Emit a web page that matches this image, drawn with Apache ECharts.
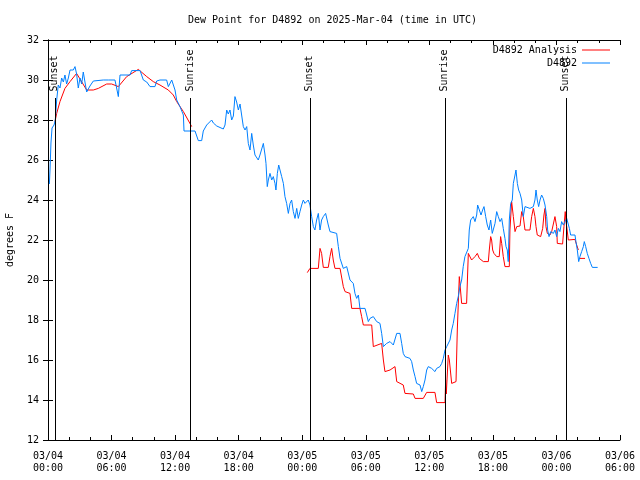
<!DOCTYPE html>
<html>
<head>
<meta charset="utf-8">
<script src="https://cdn.jsdelivr.net/npm/echarts@6/dist/echarts.min.js"></script>
<style>html,body{margin:0;padding:0;background:#fff}#c{width:640px;height:480px}</style>
</head>
<body>
<div id="c"></div>
<script>
// Hours since 2025-03-04 00:00 UTC
const obsHours = [0.13,0.19,0.28,0.38,0.57,0.69,0.82,0.97,1.13,1.29,1.45,1.6,1.76,1.92,2.08,2.24,2.39,2.55,2.7,2.86,3.02,3.18,3.33,3.49,3.65,3.96,4.28,5.22,5.7,6.32,6.48,6.64,6.8,7.74,7.9,8.69,9.0,9.32,9.63,10.1,10.26,10.57,11.2,11.36,11.68,11.83,11.99,12.15,12.46,12.78,12.84,13.88,14.19,14.51,14.66,14.98,15.14,15.45,15.61,15.93,16.55,16.71,16.87,17.02,17.18,17.34,17.5,17.65,17.81,17.97,18.13,
18.28,18.44,18.6,18.76,18.91,19.07,19.23,19.38,19.54,19.7,19.85,20.01,20.33,20.49,20.58,20.7,20.8,20.96,21.12,21.27,21.43,21.52,21.65,21.78,21.9,22.06,22.22,22.37,22.53,22.69,22.85,23.0,23.16,23.32,23.48,23.63,23.79,23.95,24.1,24.26,24.57,24.73,
24.89,25.05,25.2,25.36,25.52,25.68,25.83,25.99,26.21,26.46,26.62,26.78,27.25,27.41,27.57,27.72,27.88,28.04,28.2,28.35,28.51,28.82,28.98,29.14,29.3,29.45,29.93,30.09,30.24,30.4,30.71,31.03,31.34,31.5,31.66,31.81,31.97,32.29,32.6,32.76,32.92,33.23,33.39,33.54,33.7,34.17,34.33,34.49,34.65,34.8,35.12,35.28,35.43,35.59,35.75,35.9,36.22,36.38,36.53,36.69,37.0,37.17,37.32,37.48,37.64,
37.79,37.95,38.11,38.26,38.42,38.58,38.73,38.89,39.05,39.2,39.36,39.52,39.68,39.77,39.9,40.15,40.31,40.47,40.56,40.72,40.88,41.03,41.16,41.32,41.47,41.63,41.79,41.94,42.1,42.2,42.36,42.51,42.67,42.83,42.98,43.14,43.24,43.36,43.45,43.55,43.68,43.83,43.93,44.09,44.18,44.31,44.43,44.56,44.72,44.87,45.03,45.5,45.66,45.82,45.97,46.07,46.19,46.32,46.45,46.6,46.76,46.92,47.08,47.17,47.3,47.46,47.61,47.71,47.86,48.02,48.18,48.33,48.49,48.65,48.81,48.97,49.12,49.22,49.34,49.75,49.84,49.97,50.1,50.22,50.38,50.54,50.63,50.76,50.91,51.07,51.23,51.39,51.89];
const obsDewPoint = [24.8,25.5,26.85,27.6,27.75,28.0,29.0,29.75,29.6,30.1,29.9,30.25,29.8,30.1,30.5,30.4,30.5,30.67,30.3,29.6,30.1,29.8,30.4,29.9,29.4,29.7,29.95,30.0,30.0,30.0,29.6,29.17,30.25,30.25,30.47,30.47,30.0,29.9,29.67,29.67,29.95,30.0,30.0,29.67,30.0,30.0,29.5,29.0,28.67,28.25,27.45,27.45,26.97,26.97,27.45,27.75,27.85,28.0,27.85,27.7,27.55,27.75,28.5,28.3,28.5,28.0,28.2,29.17,28.9,28.5,28.8,
28.25,27.67,27.5,27.67,26.83,26.5,27.33,26.75,26.25,26.17,26.0,26.25,26.83,26.25,25.83,24.67,25.0,25.33,25.0,25.17,24.83,24.5,25.33,25.75,25.75,25.17,24.83,24.17,23.83,23.33,23.83,24.0,23.42,23.08,23.58,23.08,23.42,23.75,24.0,23.83,24.0,23.75,
23.17,22.67,22.5,23.0,23.33,22.5,23.0,23.17,23.33,22.75,22.42,22.33,22.33,21.67,21.08,21.0,20.58,20.5,20.67,20.58,20.0,19.83,19.33,19.08,19.25,18.58,18.58,18.25,17.92,18.08,18.17,17.92,17.83,17.33,16.67,16.67,16.83,16.92,16.75,16.67,17.33,17.33,16.83,16.33,16.17,16.08,15.92,15.5,15.17,14.83,14.75,14.42,14.67,15.0,15.5,15.67,15.58,15.5,15.42,15.58,15.67,15.83,16.08,16.5,16.67,
16.67,17.0,17.5,17.83,18.33,18.83,19.17,19.67,20.0,20.67,21.17,21.17,21.58,22.5,23.0,23.17,22.92,23.25,23.75,23.5,23.25,23.5,23.67,23.17,22.75,22.5,23.0,22.33,22.25,22.83,23.42,23.17,22.92,23.08,22.58,22.08,21.67,21.5,20.92,23.0,23.83,24.0,24.83,25.25,25.5,24.83,24.5,24.33,24.0,23.17,23.67,23.58,23.5,23.67,24.0,24.5,24.0,23.67,24.0,24.25,24.08,23.75,23.17,22.5,22.17,22.42,22.5,22.33,22.5,22.17,22.58,22.42,22.92,22.75,22.92,23.08,23.17,22.58,22.25,22.25,21.92,21.5,20.92,21.17,21.42,21.67,21.92,21.67,21.33,21.08,20.83,20.63,20.63];

const anaHours = [0.66,0.82,1.13,1.6,2.08,2.7,3.65,4.28,4.75,5.54,6.01,6.64,7.43,8.53,9.32,9.94,10.57,11.36,11.83,12.15,12.78,13.57,
19.0,
24.48,24.73,25.52,25.68,25.83,25.99,26.46,26.62,26.78,26.93,27.09,27.57,27.72,27.88,28.04,28.51,28.67,29.45,29.61,29.77,30.56,30.71,30.87,31.5,31.66,31.81,31.97,32.29,32.76,32.92,33.54,33.7,34.49,34.65,35.43,35.75,36.53,36.69,37.48,37.54,37.6,37.79,37.89,38.11,38.52,38.64,38.83,38.89,39.05,39.52,39.68,39.84,39.99,40.31,40.53,40.72,41.1,41.57,41.66,41.79,41.88,41.98,42.1,42.36,42.6,42.73,42.83,42.98,43.14,43.55,43.61,43.77,43.93,44.09,44.25,44.56,44.72,44.87,45.03,45.5,45.66,45.82,45.97,46.07,46.19,46.51,46.7,46.82,46.92,47.01,47.14,47.39,47.55,47.71,47.86,48.02,48.08,48.58,48.71,48.83,48.9,48.97,49.12,49.75,49.91,50.07,
50.15,
50.22,50.7];
const anaDewPoint = [27.92,28.33,28.92,29.58,29.92,30.33,29.5,29.5,29.58,29.8,29.8,29.67,30.17,30.53,30.17,29.92,29.75,29.5,29.25,28.92,28.42,27.67,
null,
20.37,20.58,20.58,21.58,21.33,20.63,20.63,21.17,21.58,21.0,20.58,20.58,20.5,19.67,19.42,19.33,18.58,18.58,18.17,17.75,17.75,16.67,16.75,16.83,16.0,15.42,15.37,15.5,15.67,14.92,14.75,14.33,14.3,14.08,14.08,14.38,14.38,13.87,13.87,15.0,14.3,16.25,16.0,14.83,14.92,17.5,20.17,19.83,18.83,18.83,21.33,21.33,21.0,21.17,21.33,21.08,20.92,20.92,21.5,22.17,22.0,21.5,21.33,21.17,21.17,22.17,21.83,21.17,20.67,20.67,22.5,23.92,23.17,22.42,22.67,22.7,23.42,23.17,22.5,22.5,23.17,23.58,23.17,22.67,22.25,22.17,22.58,23.25,23.58,22.67,22.33,22.25,22.42,22.33,23.17,22.67,21.83,21.8,22.67,23.42,22.92,22.67,22.0,22.03,21.75,21.5,
null,
21.08,21.08];

const sunHours = [0.69, 13.47, 24.73, 37.48, 48.9];
const sunNames = ['Sunset', 'Sunrise', 'Sunset', 'Sunrise', 'Sunset'];
const sunLineTop = 29.1;
const sunLabelBase = 29.4;

const yTicks = {min: 12, max: 32, step: 2};
const xTicks = {min: 0, max: 54, step: 6};

const FONT = 'DejaVu Sans Mono';
const pair = (hs, vs) => hs.map((h, i) => [h, vs[i] === null ? '-' : vs[i]]);

function fmtX(v) {
  const d = new Date(Date.UTC(2025, 2, 4) + v * 3600000);
  const p = n => String(n).padStart(2, '0');
  return p(d.getUTCMonth() + 1) + '/' + p(d.getUTCDate()) + '\n' + p(d.getUTCHours()) + ':' + p(d.getUTCMinutes());
}

const axisLine = {show: true, lineStyle: {color: '#000', width: 1}};
const legendCommon = {right: 30, padding: 0, align: 'right', itemWidth: 28, itemHeight: 1, icon: 'rect',
  textStyle: {fontFamily: FONT, fontSize: 10, color: '#000'}};
const chart = echarts.init(document.getElementById('c'), null, {renderer: 'canvas'});
chart.setOption({
  animation: false,
  backgroundColor: '#fff',
  title: {
    text: 'Dew Point for D4892 on 2025-Mar-04 (time in UTC)',
    left: 188, top: 15, padding: 0,
    textStyle: {fontFamily: FONT, fontSize: 10, fontWeight: 'normal', color: '#000'}
  },
  legend: [
    Object.assign({data: ['D4892 Analysis'], top: 45}, legendCommon),
    Object.assign({data: ['D4892'], top: 58}, legendCommon)
  ],
  grid: {left: 48, right: 20, top: 40, bottom: 40, containLabel: false, outerBoundsMode: 'none'},
  xAxis: [
    {type: 'value', min: xTicks.min, max: xTicks.max, interval: xTicks.step, position: 'bottom',
     axisLine, splitLine: {show: false},
     axisTick: {inside: true, length: 5, lineStyle: {color: '#000'}},
     minorTick: {show: true, splitNumber: 3, length: 3, lineStyle: {color: '#000'}},
     axisLabel: {formatter: fmtX, fontFamily: FONT, fontSize: 10, color: '#000', margin: 10, lineHeight: 12}},
    {type: 'value', min: xTicks.min, max: xTicks.max, interval: xTicks.step, position: 'top',
     axisLine, splitLine: {show: false},
     axisTick: {inside: true, length: 5, lineStyle: {color: '#000'}},
     minorTick: {show: true, splitNumber: 3, length: 3, lineStyle: {color: '#000'}},
     axisLabel: {show: false}}
  ],
  yAxis: [
    {type: 'value', min: yTicks.min, max: yTicks.max, interval: yTicks.step, position: 'left',
     name: 'degrees F', nameLocation: 'middle', nameRotate: 90, nameGap: 33,
     nameTextStyle: {fontFamily: FONT, fontSize: 10, color: '#000'},
     axisLine, splitLine: {show: false},
     axisTick: {inside: true, length: 5, lineStyle: {color: '#000'}},
     axisLabel: {fontFamily: FONT, fontSize: 10, color: '#000', margin: 9}},
    {type: 'value', min: yTicks.min, max: yTicks.max, interval: yTicks.step, position: 'right',
     axisLine, splitLine: {show: false},
     axisTick: {inside: true, length: 5, lineStyle: {color: '#000'}},
     axisLabel: {show: false}}
  ],
  series: [
    {name: 'D4892 Analysis', type: 'line', data: pair(anaHours, anaDewPoint), symbol: 'none',
     connectNulls: false, lineStyle: {color: '#ff0000', width: 1}, itemStyle: {color: '#ff0000'}},
    {name: 'D4892', type: 'line', data: pair(obsHours, obsDewPoint), symbol: 'none',
     lineStyle: {color: '#0080ff', width: 1}, itemStyle: {color: '#0080ff'}},
    {name: 'sun', type: 'scatter', symbolSize: 1, itemStyle: {opacity: 0}, silent: true,
     data: sunHours.map((h, i) => ({value: [h, sunLabelBase], name: sunNames[i]})),
     label: {show: true, formatter: p => p.name, rotate: 90, position: [0, 0], align: 'left', verticalAlign: 'middle',
             fontFamily: FONT, fontSize: 10, color: '#000', opacity: 1},
     markLine: {silent: true, symbol: ['none', 'none'], label: {show: false},
       lineStyle: {color: '#000', width: 1, type: 'solid'},
       data: sunHours.map(h => [{coord: [h, yTicks.min]}, {coord: [h, sunLineTop]}])}}
  ]
});
</script>
</body>
</html>
